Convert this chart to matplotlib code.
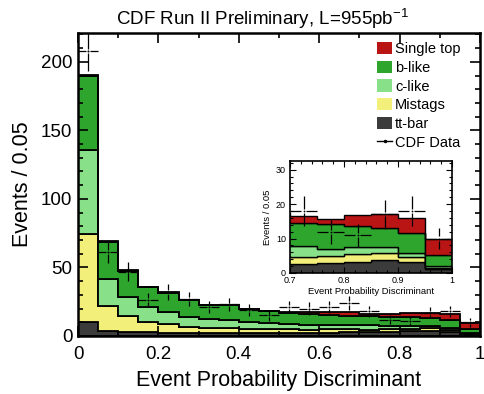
import numpy as np
import matplotlib
matplotlib.use("Agg")
import matplotlib.pyplot as plt
from matplotlib.patches import Patch
from matplotlib.lines import Line2D
from matplotlib.collections import LineCollection
from matplotlib.ticker import MultipleLocator, FuncFormatter

plt.rcParams['font.family'] = ['Liberation Sans', 'DejaVu Sans']

# bins de 0.05 en el discriminante
bordes = np.linspace(0, 1, 21)

ttbar = [10.5, 4.0, 3.0, 2.7, 2.5, 2.3, 2.2, 2.2, 2.2, 2.2,
         2.3, 2.4, 2.5, 2.6, 2.7, 3.0, 3.3, 3.7, 3.2, 1.3]
mistags = [64.1, 18.0, 11.5, 7.3, 6.1, 4.5, 3.9, 3.8, 3.2, 2.7,
           2.6, 2.1, 2.3, 2.4, 2.0, 1.9, 2.1, 2.1, 1.3, 0.2]
clike = [61.4, 19.7, 14.2, 11.0, 8.9, 7.2, 6.4, 5.5, 4.6, 4.4,
         3.6, 3.5, 3.2, 2.8, 3.2, 2.1, 2.2, 1.8, 1.3, 0.4]
blike = [54.0, 26.8, 18.8, 14.5, 14.0, 12.0, 9.8, 10.8, 9.5, 8.9,
         8.5, 8.4, 7.4, 7.1, 6.5, 7.2, 6.0, 5.6, 5.7, 3.4]
single_top = [0.6, 0.5, 0.3, 0.2, 0.3, 0.3, 0.3, 0.3, 0.3, 0.3,
              0.3, 0.8, 2.4, 2.4, 2.0, 1.6, 3.2, 3.9, 4.6, 4.5]
datos = [208, 61, 47, 26, 32, 27, 21, 23, 19, 15,
         21, 20, 21, 24, 18, 12, 11, 17, 18, 10]

procesos = ["tt-bar", "Mistags", "c-like", "b-like", "Single top"]
colores = ["#3b3b3b", "#f2f07a", "#88e088", "#2ea62e", "#b91515"]


def dibujar(ax, lw, hx, hy, ms_punto):
    base = np.zeros(len(datos))
    for vals, col in zip([ttbar, mistags, clike, blike, single_top], colores):
        tope = base + np.array(vals)
        ax.stairs(tope, bordes, baseline=base, fill=True, facecolor=col,
                  edgecolor='black', lw=lw)
        base = tope
    # cruces de datos con hueco en el centro, estilo ROOT
    centros = (bordes[:-1] + bordes[1:]) / 2
    ancho = (bordes[1:] - bordes[:-1]) / 2
    d = np.array(datos, dtype=float)
    err = np.sqrt(d)
    segs = []
    for x, y, w, e in zip(centros, d, ancho, err):
        segs += [[(x - w, y), (x - hx, y)], [(x + hx, y), (x + w, y)],
                 [(x, y - e), (x, y - hy)], [(x, y + hy), (x, y + e)]]
    ax.add_collection(LineCollection(segs, colors='black', linewidths=0.9, zorder=5))
    ax.plot(centros, d, 'o', color='black', ms=ms_punto, mec='none', zorder=7)


fmt = FuncFormatter(lambda v, p: "%g" % v)

fig = plt.figure(figsize=(4.85, 3.94), dpi=100)
ax = fig.add_axes([78/485, 1-336/394, 402/485, 303/394])
dibujar(ax, 1.3, 0.005, 1.4, 1.5)
ax.set_xlim(0, 1)
ax.set_ylim(0, 221)
ax.xaxis.set_major_locator(MultipleLocator(0.2))
ax.xaxis.set_minor_locator(MultipleLocator(0.1))
ax.yaxis.set_major_locator(MultipleLocator(50))
ax.yaxis.set_minor_locator(MultipleLocator(10))
ax.xaxis.set_major_formatter(fmt)
ax.tick_params(which='both', direction='in', top=True, right=True, width=1.2)
ax.tick_params(which='major', length=7, labelsize=13.5)
ax.tick_params(which='minor', length=3.5)
ax.tick_params(axis='x', pad=7)
ax.tick_params(axis='y', pad=4)
for s in ax.spines.values():
    s.set_linewidth(1.8)
ax.set_xlabel("Event Probability Discriminant", fontsize=15.5, labelpad=5)
ax.set_ylabel("Events / 0.05", fontsize=15.5, labelpad=6)

fig.text(262/485, 1-25/394, r"CDF Run II Preliminary, L=955pb$^{\mathregular{-1}}$",
         ha='center', va='baseline', fontsize=13.5)

manejadores = [Patch(facecolor=c, edgecolor='none') for c in colores[::-1]]
manejadores.append(Line2D([], [], color='black', lw=1, marker='o', ms=1.5))
etiquetas = procesos[::-1] + ["CDF Data"]
ax.legend(manejadores, etiquetas, loc='upper left',
          bbox_to_anchor=(377/485, 1-42/394), bbox_transform=fig.transFigure,
          frameon=False, borderpad=0, borderaxespad=0, handlelength=1.05,
          handleheight=0.9, handletextpad=0.2, labelspacing=0.32, fontsize=10.5)

# recuadro con la region 0.7 - 1
ax2 = fig.add_axes([290/485, 1-273/394, 162/485, 112/394])
dibujar(ax2, 1.0, 0.004, 0.6, 1.3)
ax2.set_xlim(0.7, 1)
ax2.set_ylim(0, 32.5)
ax2.xaxis.set_major_locator(MultipleLocator(0.1))
ax2.xaxis.set_minor_locator(MultipleLocator(0.02))
ax2.yaxis.set_major_locator(MultipleLocator(10))
ax2.yaxis.set_minor_locator(MultipleLocator(2))
ax2.xaxis.set_major_formatter(fmt)
ax2.tick_params(which='both', direction='in', top=True, right=True,
                labelsize=6.5, width=0.8, pad=2)
ax2.tick_params(axis='y', pad=3)
ax2.tick_params(which='major', length=4)
ax2.tick_params(which='minor', length=2)
for s in ax2.spines.values():
    s.set_linewidth(1.2)
ax2.set_xlabel("Event Probability Discriminant", fontsize=6.8, labelpad=1.5)
ax2.set_ylabel("Events / 0.05", fontsize=6.8, labelpad=3)

fig.savefig("out.png", dpi=100)
